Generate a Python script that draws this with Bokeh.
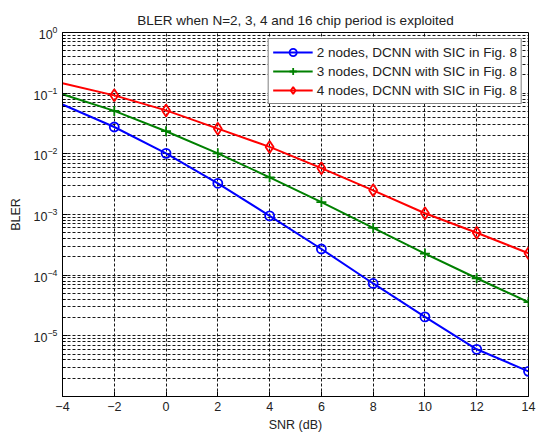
from bokeh.plotting import figure
from bokeh.models import Range1d, FixedTicker, Legend, LegendItem
from bokeh.embed import file_html
from bokeh.resources import INLINE

snr = [-4, -2, 0, 2, 4, 6, 8, 10, 12, 14]
bler_2nodes = [0.065, 0.0277, 0.0102, 0.00327, 0.00095, 0.00027, 7.3e-5, 2.05e-5, 6.0e-6, 2.6e-6]
bler_3nodes = [0.096, 0.051, 0.0236, 0.0102, 0.0041, 0.0016, 0.0006, 0.000227, 8.9e-5, 3.6e-5]
bler_4nodes = [0.146, 0.092, 0.052, 0.026, 0.013, 0.0058, 0.0025, 0.00105, 0.0005, 0.00023]
labels = ["2 nodes, DCNN with SIC in Fig. 8",
          "3 nodes, DCNN with SIC in Fig. 8",
          "4 nodes, DCNN with SIC in Fig. 8"]
x_ticks = [-4, -2, 0, 2, 4, 6, 8, 10, 12, 14]
y_ticks = [1e-5, 1e-4, 1e-3, 1e-2, 1e-1, 1e0]
y_minor = [m * 10.0 ** e for e in range(-6, 0) for m in range(2, 10)]

FONT = "Liberation Sans"

p = figure(width=536, height=434, output_backend="svg", toolbar_location=None,
           y_axis_type="log", x_range=Range1d(-4, 14), y_range=Range1d(1e-6, 1),
           title="BLER when N=2, 3, 4 and 16 chip period is exploited",
           min_border_left=62, min_border_right=8, min_border_top=32, min_border_bottom=37)

p.title.align = "center"
p.title.text_font = FONT
p.title.text_font_size = "13.5px"
p.title.text_font_style = "normal"
p.title.text_color = "#222222"
p.title.standoff = 9

p.xaxis.ticker = FixedTicker(ticks=x_ticks)
p.yaxis.ticker = FixedTicker(ticks=y_ticks, minor_ticks=y_minor)

for ax in (p.xaxis, p.yaxis):
    ax.major_label_text_font = FONT
    ax.major_label_text_font_size = "12.5px"
    ax.major_label_text_color = "#222222"
    ax.axis_label_text_font = FONT
    ax.axis_label_text_font_size = "12.5px"
    ax.axis_label_text_font_style = "normal"
    ax.axis_label_text_color = "#222222"
    ax.major_tick_in = 5
    ax.major_tick_out = 0
    ax.minor_tick_in = 3
    ax.minor_tick_out = 0
    ax.axis_line_color = "black"
    ax.major_tick_line_color = "black"
    ax.minor_tick_line_color = "black"
p.xaxis.axis_label = "SNR (dB)"
p.yaxis.axis_label = "BLER"
p.xaxis.axis_label_standoff = 4
p.yaxis.axis_label_standoff = 8

p.xgrid.grid_line_color = "black"
p.xgrid.grid_line_dash = "3 2"
p.xgrid.grid_line_alpha = 0.9
p.ygrid.grid_line_color = "black"
p.ygrid.grid_line_dash = "3 2"
p.ygrid.grid_line_alpha = 0.9
p.ygrid.minor_grid_line_color = "black"
p.ygrid.minor_grid_line_dash = "3 2"
p.ygrid.minor_grid_line_alpha = 0.9

p.outline_line_color = "black"
p.outline_line_alpha = 1.0

series = [
    (bler_2nodes, "#0000ff", "circle", 9),
    (bler_3nodes, "#008000", "cross", 10),
    (bler_4nodes, "#ff0000", "diamond", 12),
]
items = []
for (vals, color, marker, size), lab in zip(series, labels):
    ln = p.line(snr, vals, line_color=color, line_width=2)
    sc = p.scatter(snr[1:], vals[1:], marker=marker, size=size, line_color=color,
                   fill_color=None, line_width=1.8)
    items.append(LegendItem(label=lab, renderers=[ln, sc]))

legend = Legend(items=items, location="top_right")
legend.label_text_font = FONT
legend.label_text_font_size = "13.5px"
legend.label_text_color = "#222222"
legend.glyph_width = 40
legend.glyph_height = 18
legend.label_height = 18
legend.spacing = 1
legend.padding = 4
legend.margin = 6
legend.label_standoff = 4
legend.border_line_color = "black"
legend.border_line_width = 1
legend.background_fill_alpha = 1.0
p.add_layout(legend)

open("out.html", "w").write(file_html(p, INLINE))
